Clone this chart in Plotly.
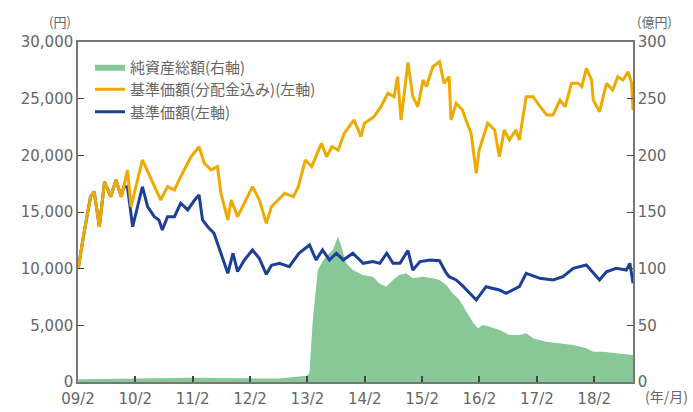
import plotly.graph_objects as go

# 基準価額(分配金込み) (yen)
nav_div_dates = [
    "2009-02-03", "2009-03-07", "2009-04-22", "2009-05-15", "2009-06-17", "2009-07-20",
    "2009-08-28", "2009-10-01", "2009-11-03", "2009-11-20", "2009-12-13", "2010-01-05",
    "2010-03-18", "2010-06-02", "2010-07-12", "2010-08-25", "2010-10-08", "2010-11-17",
    "2011-01-22", "2011-03-14", "2011-04-16", "2011-05-30", "2011-07-09", "2011-07-31",
    "2011-09-13", "2011-10-05", "2011-11-14", "2011-12-28", "2012-02-17", "2012-04-01",
    "2012-05-15", "2012-06-17", "2012-07-27", "2012-09-09", "2012-11-03", "2012-12-05",
    "2013-01-19", "2013-02-28", "2013-05-01", "2013-06-03", "2013-07-06", "2013-08-15",
    "2013-09-24", "2013-11-25", "2014-01-07", "2014-01-30", "2014-04-01", "2014-05-15",
    "2014-06-28", "2014-08-07", "2014-08-29", "2014-09-20", "2014-11-03", "2014-12-04",
    "2015-01-05", "2015-02-07", "2015-03-01", "2015-04-10", "2015-05-23", "2015-06-21",
    "2015-07-23", "2015-08-04", "2015-09-06", "2015-10-16", "2015-11-07", "2015-12-10",
    "2016-01-12", "2016-01-30", "2016-03-25", "2016-05-08", "2016-06-07", "2016-07-08",
    "2016-08-10", "2016-09-20", "2016-10-12", "2016-11-25", "2017-01-08", "2017-02-21",
    "2017-04-05", "2017-05-15", "2017-06-28", "2017-07-31", "2017-09-09", "2017-10-23",
    "2017-11-14", "2017-12-13", "2018-01-15", "2018-01-26", "2018-03-07", "2018-04-20",
    "2018-05-30", "2018-07-01", "2018-08-03", "2018-09-05", "2018-09-27", "2018-10-06",
]
nav_div_values = [
    10030, 12820, 16350, 16790, 13700, 17670,
    16350, 17820, 16350, 17230, 18700, 15470,
    19590, 17240, 16060, 17240, 16940, 18120,
    19880, 20760, 19300, 18710, 19000, 16650,
    14300, 16060, 14590, 15800, 17240, 16060,
    14000, 15470, 16060, 16650, 16350, 17240,
    19590, 19000, 21060, 19880, 20760, 20470,
    21950, 23120, 21650, 22830, 23410, 24290,
    25470, 25180, 26940, 23120, 28200, 25180,
    24290, 26650, 26060, 27820, 28260, 26350,
    26940, 23120, 24590, 24000, 23120, 21950,
    18410, 20470, 22830, 22240, 19880, 22240,
    21360, 22240, 21360, 25180, 25180, 24290,
    23560, 23560, 24880, 24290, 26350, 26350,
    26060, 27670, 26650, 24880, 23850, 26350,
    25760, 26940, 26650, 27380, 26350, 24000,
]

# 基準価額 (yen)
nav_dates = [
    "2009-02-03", "2009-03-07", "2009-04-22", "2009-05-15", "2009-06-17", "2009-07-20",
    "2009-08-28", "2009-10-01", "2009-11-03", "2009-11-20", "2009-12-13", "2010-01-15",
    "2010-03-18", "2010-04-20", "2010-06-02", "2010-07-01", "2010-07-23", "2010-08-25",
    "2010-10-08", "2010-11-17", "2011-01-01", "2011-02-14", "2011-03-14", "2011-04-05",
    "2011-05-08", "2011-06-17", "2011-07-31", "2011-09-13", "2011-10-16", "2011-11-14",
    "2011-12-28", "2012-02-17", "2012-04-01", "2012-05-15", "2012-06-17", "2012-08-07",
    "2012-10-08", "2012-12-09", "2013-02-14", "2013-03-28", "2013-05-08", "2013-06-21",
    "2013-08-04", "2013-09-17", "2013-11-17", "2014-01-22", "2014-03-25", "2014-05-08",
    "2014-06-21", "2014-07-31", "2014-09-13", "2014-11-03", "2014-12-04", "2015-01-19",
    "2015-03-25", "2015-05-23", "2015-07-01", "2015-07-23", "2015-09-06", "2015-10-16",
    "2016-01-12", "2016-03-14", "2016-06-07", "2016-07-20", "2016-10-12", "2016-11-25",
    "2017-02-21", "2017-05-15", "2017-07-17", "2017-09-20", "2017-12-13", "2018-01-26",
    "2018-03-07", "2018-04-20", "2018-06-21", "2018-08-25", "2018-09-16", "2018-10-06",
]
nav_values = [
    10030, 12820, 16350, 16790, 13700, 17670,
    16350, 17820, 16350, 17230, 17230, 13700,
    17230, 15470, 14590, 14300, 13410, 14590,
    14590, 15770, 15180, 16060, 16500, 14300,
    13700, 13120, 11360, 9590, 11360, 9740,
    10770, 11650, 10900, 9500, 10300, 10470,
    10180, 11360, 12090, 10770, 11650, 10770,
    11360, 10770, 11360, 10470, 10620, 10470,
    11360, 10470, 10470, 11600, 9880, 10620,
    10770, 10700, 9700, 9290, 9000, 8500,
    7240, 8410, 8120, 7830, 8410, 9590,
    9150, 9000, 9290, 10030, 10320, 9590,
    9000, 9730, 10030, 9880, 10470, 8710,
]

# 純資産総額 (億円)
aum_dates = [
    "2009-02-03", "2010-02-01", "2011-02-01", "2012-02-01", "2012-08-01", "2013-01-28",
    "2013-02-14", "2013-03-07", "2013-04-08", "2013-05-01", "2013-05-30", "2013-07-12",
    "2013-08-15", "2013-09-06", "2013-10-05", "2013-11-17", "2014-01-19", "2014-03-25",
    "2014-05-04", "2014-06-17", "2014-07-31", "2014-09-09", "2014-10-23", "2014-12-04",
    "2015-02-07", "2015-04-10", "2015-05-23", "2015-07-05", "2015-08-15", "2015-09-27",
    "2015-11-10", "2015-12-20", "2016-01-22", "2016-02-24", "2016-04-05", "2016-06-10",
    "2016-08-10", "2016-10-16", "2016-11-25", "2017-01-08", "2017-04-01", "2017-06-28",
    "2017-09-20", "2017-12-13", "2018-01-26", "2018-03-28", "2018-06-24", "2018-10-06",
]
aum_values = [
    2.5, 3.0, 3.8, 3.2, 3.0, 5.6,
    8.0, 55.0, 98.8, 104.7, 110.6, 116.5,
    128.2, 119.4, 104.7, 98.8, 94.4, 92.9,
    87.1, 84.1, 90.0, 94.4, 95.9, 91.5,
    92.9, 91.5, 90.0, 85.6, 78.2, 72.3,
    62.0, 53.0, 47.4, 50.3, 48.8, 45.9,
    41.5, 41.5, 43.0, 38.5, 35.6, 34.1,
    32.6, 29.7, 26.7, 26.7, 25.3, 23.8,
]

tick_dates = ["2009-02-01", "2010-02-01", "2011-02-01", "2012-02-01", "2013-02-01",
              "2014-02-01", "2015-02-01", "2016-02-01", "2017-02-01", "2018-02-01"]
tick_labels = ["09/2", "10/2", "11/2", "12/2", "13/2", "14/2", "15/2", "16/2", "17/2", "18/2"]

GREEN = "#88c897"
ORANGE = "#eeaa00"
BLUE = "#1c3f98"
GREY = "#666666"
AXIS = "#777777"
FONT_NUM = "DejaVu Sans"
FONT_JP = "Noto Sans CJK JP"

fig = go.Figure()
fig.add_trace(go.Scatter(
    x=aum_dates, y=aum_values, name="純資産総額(右軸)", yaxis="y",
    mode="lines", line=dict(width=0, color=GREEN), fill="tozeroy",
    fillcolor=GREEN, legendrank=1,
))
fig.add_trace(go.Scatter(
    x=nav_dates, y=nav_values, name="基準価額(左軸)", yaxis="y2",
    mode="lines", line=dict(width=3, color=BLUE), legendrank=3,
))
fig.add_trace(go.Scatter(
    x=nav_div_dates, y=nav_div_values, name="基準価額(分配金込み)(左軸)", yaxis="y2",
    mode="lines", line=dict(width=3, color=ORANGE), legendrank=2,
))

fig.update_layout(
    width=693, height=412,
    margin=dict(l=78, r=60, t=42, b=30),
    paper_bgcolor="white", plot_bgcolor="white",
    showlegend=True,
    legend=dict(
        x=0.0216, y=0.975, xanchor="left", yanchor="top",
        bgcolor="rgba(0,0,0,0)", font=dict(family=FONT_JP, size=15, color=GREY),
        tracegroupgap=0, itemwidth=30,
    ),
    xaxis=dict(
        type="date", range=["2009-02-01", "2018-10-06"],
        tickvals=tick_dates, ticktext=tick_labels,
        ticks="inside", ticklen=6, tickwidth=1.5, tickcolor="#444444",
        showline=True, linecolor=AXIS, linewidth=1.5, mirror=True,
        showgrid=False, zeroline=False, automargin=False,
        ticklabelstandoff=2,
        tickfont=dict(family=FONT_NUM, size=15, color=GREY),
    ),
    yaxis=dict(
        side="right", range=[0, 300], tickvals=[0, 50, 100, 150, 200, 250, 300],
        ticks="inside", ticklen=6, tickcolor="#444444",
        showline=True, linecolor=AXIS, linewidth=1.5,
        showgrid=False, zeroline=False, automargin=False,
        tickfont=dict(family=FONT_NUM, size=15, color=GREY),
    ),
    yaxis2=dict(
        side="left", overlaying="y", range=[0, 30000],
        tickvals=[0, 5000, 10000, 15000, 20000, 25000, 30000],
        tickformat=",", ticks="inside", ticklen=6, tickcolor="#444444",
        showline=True, linecolor=AXIS, linewidth=1.5,
        showgrid=False, zeroline=False, automargin=False,
        tickfont=dict(family=FONT_NUM, size=15, color=GREY),
    ),
    annotations=[
        dict(text="(円)", xref="paper", yref="paper", x=-0.032, y=1.06,
             xanchor="center", yanchor="middle", showarrow=False,
             font=dict(family=FONT_JP, size=13, color=GREY)),
        dict(text="(億円)", xref="paper", yref="paper", x=1.038, y=1.06,
             xanchor="center", yanchor="middle", showarrow=False,
             font=dict(family=FONT_JP, size=13, color=GREY)),
        dict(text="(年/月)", xref="paper", yref="paper", x=1.06, y=-0.042,
             xanchor="center", yanchor="middle", showarrow=False,
             font=dict(family=FONT_JP, size=14, color=GREY)),
    ],
)

fig.write_html(
    "out.html",
    config={"displayModeBar": False},
    post_script="document.body.style.margin='0';document.body.style.overflow='hidden';",
)
